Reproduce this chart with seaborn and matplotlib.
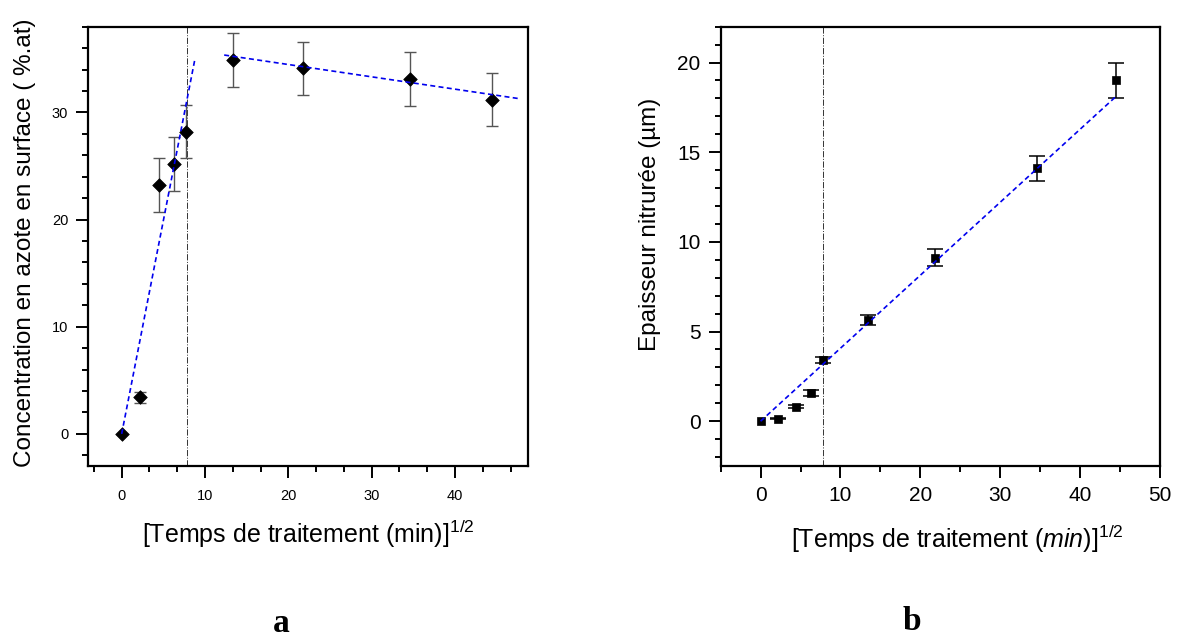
import matplotlib
matplotlib.use("Agg")
import matplotlib.pyplot as plt
import seaborn as sns
import numpy as np
from matplotlib.ticker import MultipleLocator

# ---------------- data ----------------
# panel a : surface nitrogen concentration
a_x = [0.0, 2.24, 4.44, 6.3, 7.76, 13.4, 21.8, 34.6, 44.4]
a_y = [0.0, 3.4, 23.2, 25.2, 28.2, 34.9, 34.1, 33.1, 31.2]
a_err = [0.0, 0.5, 2.5, 2.5, 2.5, 2.5, 2.5, 2.5, 2.5]
# linear fits (panel a)
a_fit1_x = [0.0, 8.8]
a_fit1_slope, a_fit1_icpt = 3.98, 0.0
a_fit2_x = [12.3, 47.6]
a_fit2_slope, a_fit2_icpt = -0.115, 36.77

# panel b : nitrided thickness
b_x = [0.0, 2.2, 4.43, 6.37, 7.8, 13.4, 21.8, 34.6, 44.5]
b_y = [0.0, 0.15, 0.8, 1.58, 3.4, 5.64, 9.12, 14.1, 19.0]
b_err = [0.0, 0.05, 0.08, 0.18, 0.18, 0.3, 0.46, 0.7, 0.97]
b_fit_x = [0.0, 44.5]
b_fit_slope, b_fit_icpt = 0.407, 0.0

v_line_x = 7.8

a_xlabel = "[Temps de traitement (min)$]^{1/2}$"
a_ylabel = "Concentration en azote en surface ( %.at)"
b_xlabel = "[Temps de traitement $\\mathit{(min)}]^{1/2}$"
b_ylabel = "Epaisseur nitrurée (µm)"
a_ticks_x = [0, 10, 20, 30, 40]
a_ticks_y = [0, 10, 20, 30]
b_ticks_x = [0, 10, 20, 30, 40, 50]
b_ticks_y = [0, 5, 10, 15, 20]

# ---------------- style ----------------
sns.set_style("ticks")
plt.rcParams["font.family"] = ["Liberation Sans", "DejaVu Sans"]
plt.rcParams["mathtext.fontset"] = "custom"
plt.rcParams["mathtext.rm"] = "Liberation Sans"
plt.rcParams["mathtext.it"] = "Liberation Sans:italic"
plt.rcParams["mathtext.default"] = "rm"
for k in ["text.color", "axes.labelcolor", "xtick.color", "ytick.color",
          "xtick.labelcolor", "ytick.labelcolor"]:
    plt.rcParams[k] = "black"

fig = plt.figure(figsize=(11.81, 6.37), dpi=100, facecolor="white")
axL = fig.add_axes([0.0748, 0.2684, 0.3726, 0.6897])
axR = fig.add_axes([0.6102, 0.2684, 0.3720, 0.6897])

def style_axes(ax, tick_fs):
    for s in ax.spines.values():
        s.set_linewidth(1.6)
        s.set_color("black")
        s.set_visible(True)
    ax.tick_params(which="both", direction="out", top=False, right=False,
                   width=1.4, color="black", labelcolor="black",
                   labelsize=tick_fs)
    ax.tick_params(which="major", length=8.5, pad=6)
    ax.tick_params(which="minor", length=4.5)
    ax.set_facecolor("white")

# ---------- panel a ----------
ax = axL
ax.errorbar(a_x[1:], a_y[1:], yerr=a_err[1:], fmt="none", ecolor="#555555",
            elinewidth=1.0, capsize=4.5, capthick=1.0, zorder=2)
sns.scatterplot(x=a_x, y=a_y, marker="D", color="black", s=48,
                edgecolor="black", linewidth=0.5, ax=ax, zorder=3)
fx = np.array(a_fit1_x)
sns.lineplot(x=fx, y=a_fit1_slope * fx + a_fit1_icpt, ax=ax, color="#0000ee",
             linestyle=(0, (3, 2)), linewidth=1.2, zorder=4)
fx = np.array(a_fit2_x)
sns.lineplot(x=fx, y=a_fit2_slope * fx + a_fit2_icpt, ax=ax, color="#0000ee",
             linestyle=(0, (3, 2)), linewidth=1.2, zorder=4)
ax.axvline(v_line_x, color="#333333", linestyle="-.", linewidth=0.7, zorder=1)
ax.set_xlim(-4.0, 48.8)
ax.set_ylim(-3.0, 38.0)
ax.set_xticks(a_ticks_x)
ax.set_yticks(a_ticks_y)
ax.xaxis.set_minor_locator(MultipleLocator(10 / 3))
ax.yaxis.set_minor_locator(MultipleLocator(2))
style_axes(ax, 10.5)
ax.tick_params(axis="x", which="major", pad=8)
ax.set_xlabel(a_xlabel, fontsize=18)
ax.set_ylabel(a_ylabel, fontsize=17.5)
ax.xaxis.set_label_coords(0.50, -0.118)
ax.yaxis.set_label_coords(-0.118, 0.508)

# ---------- panel b ----------
ax = axR
ax.errorbar(b_x[1:], b_y[1:], yerr=b_err[1:], fmt="none", ecolor="black",
            elinewidth=1.1, capsize=6, capthick=1.1, zorder=2)
sns.scatterplot(x=b_x, y=b_y, marker="s", color="black", s=30,
                edgecolor="black", linewidth=0.5, ax=ax, zorder=3)
fx = np.array(b_fit_x)
sns.lineplot(x=fx, y=b_fit_slope * fx + b_fit_icpt, ax=ax, color="#0000ee",
             linestyle=(0, (3, 2)), linewidth=1.2, zorder=4)
ax.axvline(v_line_x, color="#333333", linestyle="-.", linewidth=0.7, zorder=1)
ax.set_xlim(-5, 50)
ax.set_ylim(-2.5, 22)
ax.set_xticks(b_ticks_x)
ax.set_yticks(b_ticks_y)
ax.xaxis.set_minor_locator(MultipleLocator(5))
ax.yaxis.set_minor_locator(MultipleLocator(1))
style_axes(ax, 15)
ax.set_xlabel(b_xlabel, fontsize=18)
ax.set_ylabel(b_ylabel, fontsize=17.5)
ax.xaxis.set_label_coords(0.538, -0.13)
ax.yaxis.set_label_coords(-0.135, 0.55)

# panel letters
fig.text(281 / 1181, 1 - 623 / 637, "a", fontsize=24, fontweight="bold",
         family="Liberation Serif", ha="center", va="center")
fig.text(912 / 1181, 1 - 621 / 637, "b", fontsize=24, fontweight="bold",
         family="Liberation Serif", ha="center", va="center")

fig.savefig("out.png", dpi=100, facecolor="white")
